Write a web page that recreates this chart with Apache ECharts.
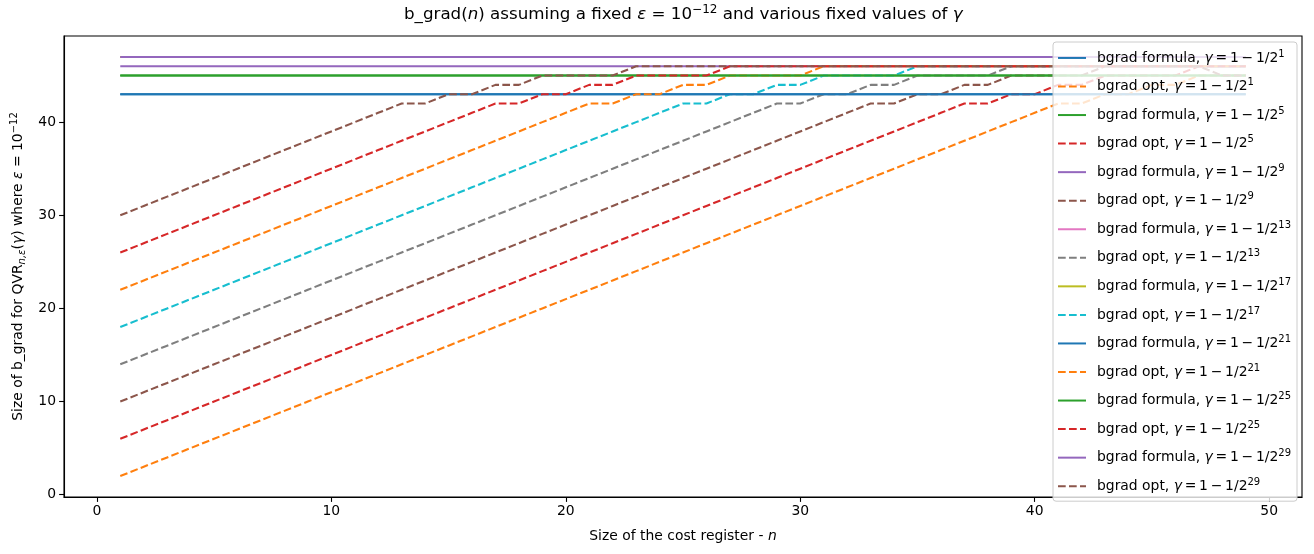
<!DOCTYPE html>
<html>
<head>
<meta charset="utf-8">
<script src="https://cdn.jsdelivr.net/npm/echarts@6/dist/echarts.min.js"></script>
<style>
  html, body { margin: 0; padding: 0; background: #fff; }
  #chart { width: 1314px; height: 554px; }
</style>
</head>
<body>
<div id="chart"></div>
<script>
    "use strict";

    // size of the cost register n
    var nValues = [1, 2, 3, 4, 5, 6, 7, 8, 9, 10, 11, 12, 13, 14, 15, 16, 17, 18, 19, 20,
        21, 22, 23, 24, 25, 26, 27, 28, 29, 30, 31, 32, 33, 34, 35, 36, 37, 38, 39, 40,
        41, 42, 43, 44, 45, 46, 47, 48, 49];

    // gamma = 1 - 1/2^k
    var gammaExps = [1, 5, 9, 13, 17, 21, 25, 29];

    // bgrad formula (constant in n), one per gamma
    var formulaValues = [43, 45, 46, 47, 47, 43, 45, 47];

    // bgrad opt, one array per gamma
    var optG1 = [2, 3, 4, 5, 6, 7, 8, 9, 10, 11, 12, 13, 14, 15, 16, 17, 18, 19, 20, 21,
        22, 23, 24, 25, 26, 27, 28, 29, 30, 31, 32, 33, 34, 35, 36, 37, 38, 39, 40, 41,
        42, 42, 43, 43, 44, 44, 45, 45, 45];
    var optG5 = [6, 7, 8, 9, 10, 11, 12, 13, 14, 15, 16, 17, 18, 19, 20, 21, 22, 23, 24, 25,
        26, 27, 28, 29, 30, 31, 32, 33, 34, 35, 36, 37, 38, 39, 40, 41, 42, 42, 43, 43,
        44, 44, 45, 45, 45, 45, 46, 46, 46];
    var optG9 = [10, 11, 12, 13, 14, 15, 16, 17, 18, 19, 20, 21, 22, 23, 24, 25, 26, 27, 28, 29,
        30, 31, 32, 33, 34, 35, 36, 37, 38, 39, 40, 41, 42, 42, 43, 43, 44, 44, 45, 45,
        45, 45, 46, 46, 46, 46, 46, 46, 46];
    var optG13 = [14, 15, 16, 17, 18, 19, 20, 21, 22, 23, 24, 25, 26, 27, 28, 29, 30, 31, 32, 33,
        34, 35, 36, 37, 38, 39, 40, 41, 42, 42, 43, 43, 44, 44, 45, 45, 45, 45, 46, 46,
        46, 46, 46, 46, 46, 46, 46, 46, 46];
    var optG17 = [18, 19, 20, 21, 22, 23, 24, 25, 26, 27, 28, 29, 30, 31, 32, 33, 34, 35, 36, 37,
        38, 39, 40, 41, 42, 42, 43, 43, 44, 44, 45, 45, 45, 45, 46, 46, 46, 46, 46, 46,
        46, 46, 46, 46, 46, 46, 46, 46, 46];
    var optG21 = [22, 23, 24, 25, 26, 27, 28, 29, 30, 31, 32, 33, 34, 35, 36, 37, 38, 39, 40, 41,
        42, 42, 43, 43, 44, 44, 45, 45, 45, 45, 46, 46, 46, 46, 46, 46, 46, 46, 46, 46,
        46, 46, 46, 46, 46, 46, 46, 46, 46];
    var optG25 = [26, 27, 28, 29, 30, 31, 32, 33, 34, 35, 36, 37, 38, 39, 40, 41, 42, 42, 43, 43,
        44, 44, 45, 45, 45, 45, 46, 46, 46, 46, 46, 46, 46, 46, 46, 46, 46, 46, 46, 46,
        46, 46, 46, 46, 46, 46, 46, 46, 46];
    var optG29 = [30, 31, 32, 33, 34, 35, 36, 37, 38, 39, 40, 41, 42, 42, 43, 43, 44, 44, 45, 45,
        45, 45, 46, 46, 46, 46, 46, 46, 46, 46, 46, 46, 46, 46, 46, 46, 46, 46, 46, 46,
        46, 46, 46, 46, 46, 46, 46, 45, 45];
    var optValues = [optG1, optG5, optG9, optG13, optG17, optG21, optG25, optG29];

    var xTicks = [0, 10, 20, 30, 40, 50];
    var yTicks = [0, 10, 20, 30, 40];

    // matplotlib tab10
    var palette = ['#1f77b4', '#ff7f0e', '#2ca02c', '#d62728', '#9467bd',
        '#8c564b', '#e377c2', '#7f7f7f', '#bcbd22', '#17becf'];

    var FONT = 'DejaVu Sans';
    var LW = 2.08;          // 1.5pt at 100 dpi
    var DASH = [7.7, 3.3];  // matplotlib '--'
    var THIN = '\u2009';

    function _each(arr, fn) {
        for (var i = 0; i < arr.length; i++) { fn(arr[i], i); }
    }

    var richStyles = function (size) {
        var small = Math.round(size * 0.7);
        return {
            t: {fontFamily: FONT, fontSize: size, fontWeight: 'normal', color: '#000', lineHeight: size + 4},
            i: {fontFamily: FONT, fontSize: size, fontWeight: 'normal', fontStyle: 'italic', color: '#000', lineHeight: size + 4},
            s: {fontFamily: FONT, fontSize: small, fontWeight: 'normal', color: '#000',
                lineHeight: small, verticalAlign: 'top'},
            si: {fontFamily: FONT, fontSize: small, fontWeight: 'normal', fontStyle: 'italic', color: '#000',
                lineHeight: small, verticalAlign: 'bottom'},
        };
    };

    var series = [];
    var legendNames = [];
    _each(gammaExps, function (k, idx) {
        var fName = 'bgrad formula, γ' + THIN + '=' + THIN + '1' + THIN + '−' + THIN + '1/2^' + k;
        var oName = 'bgrad opt, γ' + THIN + '=' + THIN + '1' + THIN + '−' + THIN + '1/2^' + k;
        legendNames.push(fName, oName);
        var fv = formulaValues[idx];
        series.push({
            name: fName,
            type: 'line',
            symbol: 'none',
            color: palette[(idx * 2) % 10],
            lineStyle: {width: LW, type: 'solid'},
            data: nValues.map(function (n) { return [n, fv]; }),
        });
        var ov = optValues[idx];
        series.push({
            name: oName,
            type: 'line',
            symbol: 'none',
            color: palette[(idx * 2 + 1) % 10],
            lineStyle: {width: LW, type: DASH},
            data: nValues.map(function (n, j) { return [n, ov[j]]; }),
        });
    });

    var chart = echarts.init(document.getElementById('chart'), null, {renderer: 'canvas'});
    chart.setOption({
        animation: false,
        backgroundColor: '#fff',
        title: {
            text: '{t|b_grad(}{i|n}{t|) assuming a fixed }{i|ε}{t| = 10}{s|−12}{t| and various fixed values of }{i|γ}',
            left: 404,
            top: 2,
            padding: [2, 0, 2, 0],
            textStyle: {fontWeight: 'normal', rich: richStyles(16.7)},
        },
        grid: {left: 64, right: 12, top: 36, bottom: 57, show: true, borderColor: '#000', borderWidth: 1.1},
        legend: {
            data: legendNames,
            orient: 'vertical',
            right: 17,
            top: 42,
            itemWidth: 28,
            itemHeight: 14,
            itemGap: 12.6,
            padding: [7, 6, 8, 4],
            backgroundColor: 'rgba(255,255,255,0.8)',
            borderColor: '#cccccc',
            borderWidth: 1,
            borderRadius: 3,
            itemStyle: {color: 'transparent', borderColor: 'transparent', borderWidth: 0, opacity: 0},
            textStyle: {rich: richStyles(13.9), padding: [0, 0, 0, 6]},
            formatter: function (name) {
                var parts = name.split('^');
                var head = parts[0].split('γ');
                return '{t|' + head[0] + '}{i|γ}{t|' + head[1] + '}{s|' + parts[1] + '}';
            },
        },
        xAxis: {
            type: 'value',
            min: -1.4,
            max: 51.4,
            name: '{t|Size of the cost register - }{i|n}',
            nameLocation: 'middle',
            nameGap: 30,
            nameTextStyle: {rich: richStyles(13.9)},
            axisLine: {show: true, onZero: false, lineStyle: {color: '#000', width: 1.1}},
            axisTick: {show: true, length: 4.9, lineStyle: {color: '#000', width: 1.1}, customValues: xTicks},
            axisLabel: {color: '#000', fontFamily: FONT, fontSize: 13.9, margin: 7, customValues: xTicks},
            splitLine: {show: false},
        },
        yAxis: {
            type: 'value',
            min: -0.25,
            max: 49.25,
            name: '{t|Size of b_grad for QVR}{si|n,ε}{t|(}{i|γ}{t|) where }{i|ε}{t| = 10}{s|−12}',
            nameLocation: 'middle',
            nameRotate: 90,
            nameGap: 37,
            nameTextStyle: {rich: richStyles(13.9)},
            axisLine: {show: true, onZero: false, lineStyle: {color: '#000', width: 1.1}},
            axisTick: {show: true, length: 4.9, lineStyle: {color: '#000', width: 1.1}, customValues: yTicks},
            axisLabel: {color: '#000', fontFamily: FONT, fontSize: 13.9, margin: 8, customValues: yTicks},
            splitLine: {show: false},
        },
        series: series,
    });
</script>
</body>
</html>
